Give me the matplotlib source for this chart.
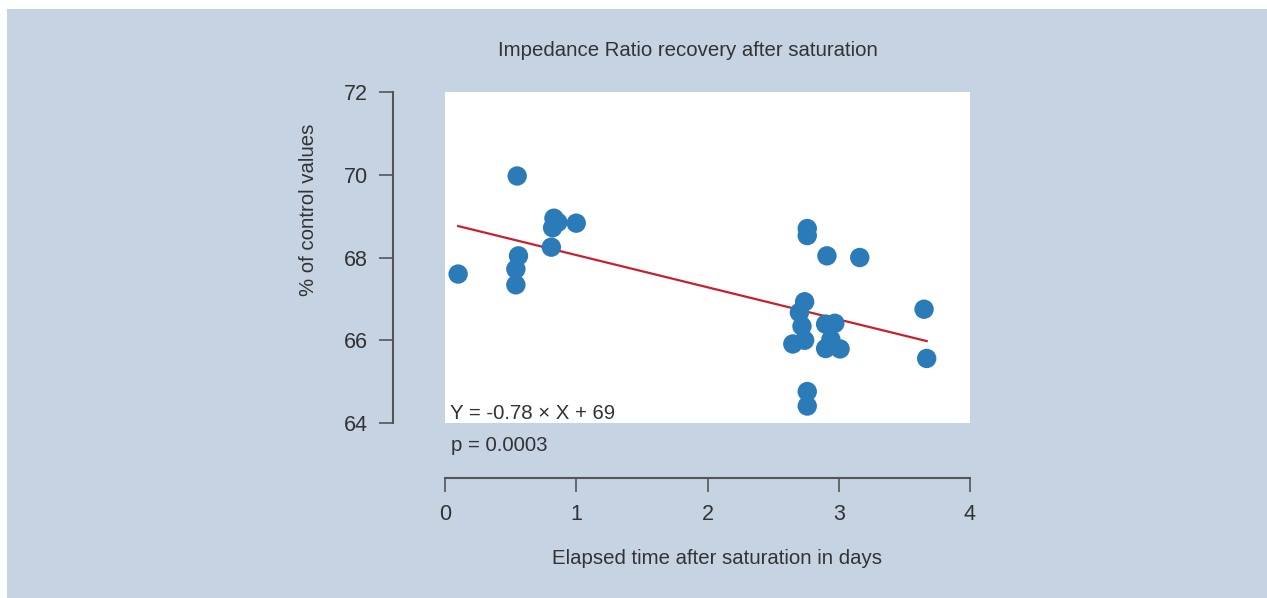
import matplotlib
matplotlib.use("Agg")
import matplotlib.pyplot as plt
from matplotlib.patches import Rectangle

plt.rcParams["font.family"] = ["Liberation Sans", "DejaVu Sans"]

# data
days = [0.10, 0.55, 0.56, 0.54, 0.54, 0.83, 0.82, 0.86, 0.81, 1.00,
        2.76, 2.76, 2.91, 3.16, 2.74, 2.70, 2.72, 2.65, 2.74, 2.90,
        2.97, 2.94, 2.90, 3.01, 2.76, 2.76, 3.65, 3.67]
pct_control = [67.60, 69.97, 68.04, 67.72, 67.34, 68.95, 68.72, 68.85, 68.25, 68.83,
               68.70, 68.53, 68.04, 68.00, 66.93, 66.67, 66.34, 65.91, 66.00, 66.39,
               66.41, 66.02, 65.80, 65.79, 64.76, 64.41, 66.75, 65.56]
fit_x = [0.10, 3.67]
fit_y = [68.76, 65.98]

TEXT = "#333333"
SPINE = "#555555"
BG = "#c5d3e3"

W, H = 1267, 598
fig = plt.figure(figsize=(W / 100, H / 100), dpi=100)
fig.patch.set_facecolor("white")
fig.patches.append(Rectangle((7 / W, 0), 1 - 7 / W, 1 - 9 / H, transform=fig.transFigure,
                             facecolor=BG, edgecolor="none", zorder=-10))

ax = fig.add_axes([445 / W, (H - 423) / H, (970 - 445) / W, (423 - 92) / H])
ax.set_facecolor("white")
ax.scatter(days, pct_control, s=195, color="#2b7bb9", edgecolors="none", zorder=3,
           clip_on=False)
ax.plot(fit_x, fit_y, color="#c8202f", lw=1.6, zorder=2)

ax.set_xlim(0, 4)
ax.set_ylim(64, 72)
ax.set_xticks([0, 1, 2, 3, 4])
ax.set_yticks([64, 66, 68, 70, 72])

for side in ["top", "right"]:
    ax.spines[side].set_visible(False)
ax.spines["left"].set_position(("outward", 52 * 0.72))
ax.spines["bottom"].set_position(("outward", 55 * 0.72))
for side in ["left", "bottom"]:
    ax.spines[side].set_color(SPINE)
    ax.spines[side].set_linewidth(1.5)
ax.tick_params(length=10, width=1.2, color=SPINE, labelcolor=TEXT, labelsize=15.5)
ax.tick_params(axis="x", pad=9)
ax.tick_params(axis="y", pad=8)

# titles are placed by pixel, as in the reference (not centred on the axes)
fig.text(688 / W, 1 - 50 / H, "Impedance Ratio recovery after saturation",
         fontsize=14.7, color=TEXT, ha="center", va="center")
fig.text(717 / W, 1 - 559 / H, "Elapsed time after saturation in days",
         fontsize=14.7, color=TEXT, ha="center", va="center")
fig.text(309 / W, 1 - 210 / H, "% of control values", rotation=90,
         fontsize=14.7, color=TEXT, ha="center", va="center")

ax.text(0.01, 0.0, "Y = -0.78 × X + 69", transform=ax.transAxes, fontsize=14.7,
        color=TEXT, ha="left", va="bottom")
ax.text(0.012, -0.068, "p = 0.0003", transform=ax.transAxes, fontsize=14.7,
        color=TEXT, ha="left", va="center")

fig.savefig("out.png", dpi=100)
